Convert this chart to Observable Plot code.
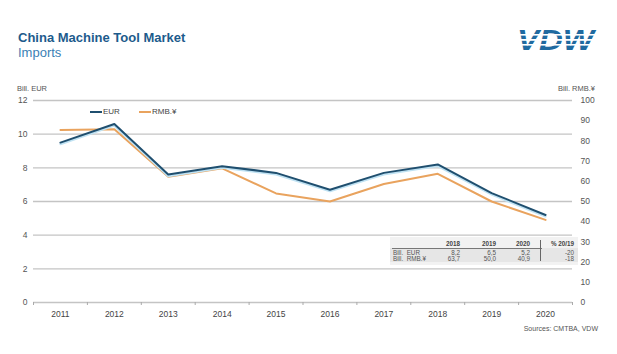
<!DOCTYPE html>
<html>
<head>
<meta charset="utf-8">
<script src="https://cdn.jsdelivr.net/npm/d3@7"></script>
<script src="https://cdn.jsdelivr.net/npm/@observablehq/plot@0.6"></script>
<style>
  html, body { margin: 0; padding: 0; background: #fff; }
  body { font-family: "Liberation Sans", Arial, sans-serif; }
  #wrap { position: relative; width: 617px; height: 354px; overflow: hidden; background: #fff; }
  #wrap > svg { position: absolute; left: 0; top: 0; }
  .abs { position: absolute; white-space: nowrap; }
</style>
</head>
<body>
<div id="wrap"></div>
<script>
// ---- data ----
const years = [2011, 2012, 2013, 2014, 2015, 2016, 2017, 2018, 2019, 2020];
const eurValues = [9.5, 10.6, 7.6, 8.1, 7.7, 6.7, 7.7, 8.2, 6.5, 5.2];
const rmbValues = [85.4, 85.8, 62.3, 66.4, 54.0, 50.0, 58.7, 63.7, 50.0, 40.9];
const eurTicks = [0, 2, 4, 6, 8, 10, 12];
const rmbTicks = [0, 10, 20, 30, 40, 50, 60, 70, 80, 90, 100];
const tableHeader = ["2018", "2019", "2020", "% 20/19"];
const tableRowLabels = ["Bill.  EUR", "Bill.  RMB.¥"];
const tableEUR = ["8,2", "6,5", "5,2", "-20"];
const tableRMB = ["63,7", "50,0", "40,9", "-18"];
const seriesNames = ["EUR", "RMB.¥"];

// ---- layout ----
const W = 617, H = 354;
const k = 12 / 100; // RMB -> EUR-axis scale factor
const eurColor = "#1f4f6f";
const rmbColor = "#e9a35e";

const eurData = years.map((y, i) => ({year: y, v: eurValues[i]}));
const rmbData = years.map((y, i) => ({year: y, v: rmbValues[i] * k}));
const boundaries = d3.range(years[0] - 0.5, years[years.length - 1] + 1, 1);

const chart = Plot.plot({
  width: W,
  height: H,
  marginLeft: 33,
  marginRight: 45,
  marginTop: 100,
  marginBottom: 52,
  style: {fontFamily: "'Liberation Sans', Arial, sans-serif", fontSize: "8.5px", color: "#555", background: "transparent"},
  x: {type: "linear", domain: [years[0] - 0.5, years[years.length - 1] + 0.5]},
  y: {domain: [0, 12]},
  marks: [
    Plot.gridY(eurTicks, {stroke: "#c4c4c4", strokeOpacity: 1, strokeWidth: 1.3}),
    Plot.axisY(eurTicks, {tickSize: 0, tickPadding: 6, label: null, fill: "#555"}),
    Plot.axisY(rmbTicks.map(v => v * k), {anchor: "right", tickSize: 0, tickPadding: 8, label: null, fill: "#555", tickFormat: d => String(Math.round(d / k))}),
    Plot.axisX(years, {tickSize: 0, tickPadding: 8, label: null, fill: "#444", tickFormat: d => String(d)}),
    Plot.axisX(boundaries, {tickSize: 3, label: null, stroke: "#aaa", tickFormat: () => ""}),
    Plot.line(rmbData, {x: "year", y: "v", stroke: rmbColor, strokeWidth: 2}),
    Plot.line(eurData, {x: "year", y: "v", stroke: "#bfe2f3", strokeWidth: 2, dy: 1.6}),
    Plot.line(eurData, {x: "year", y: "v", stroke: eurColor, strokeWidth: 2})
  ]
});
const wrap = document.getElementById("wrap");
wrap.appendChild(chart);

function addText(txt, css) {
  const d = document.createElement("div");
  d.className = "abs";
  d.textContent = txt;
  Object.assign(d.style, css);
  wrap.appendChild(d);
  return d;
}

// Title / subtitle
addText("China Machine Tool Market", {left: "18px", top: "30px", fontSize: "13px", fontWeight: "bold", color: "#1d5b8c"});
addText("Imports", {left: "18px", top: "45px", fontSize: "13px", color: "#3b7fb5"});

// VDW logo
const logo = document.createElementNS("http://www.w3.org/2000/svg", "svg");
logo.setAttribute("width", "90"); logo.setAttribute("height", "34");
logo.style.position = "absolute"; logo.style.left = "512px"; logo.style.top = "22px";
logo.innerHTML = `
  <text x="5" y="28" font-family="'Liberation Sans', Arial" font-weight="bold" font-style="italic" font-size="30" fill="#1f6aa0" textLength="77" lengthAdjust="spacingAndGlyphs">VDW</text>
  <rect x="0" y="12" width="90" height="1.6" fill="#fff"/>
  <rect x="0" y="17" width="90" height="1.8" fill="#fff"/>
  <rect x="0" y="22" width="90" height="1.6" fill="#fff"/>`;
wrap.appendChild(logo);

// Axis unit labels
addText("Bill. EUR", {left: "17px", top: "84px", fontSize: "7.5px", color: "#555"});
addText("Bill. RMB.¥", {right: "22px", top: "84px", fontSize: "7.5px", color: "#555"});

// Legend
const legendItems = [{name: seriesNames[0], color: eurColor, x: 90}, {name: seriesNames[1], color: rmbColor, x: 139}];
legendItems.forEach(it => {
  const sw = document.createElement("div");
  sw.className = "abs";
  Object.assign(sw.style, {left: it.x + "px", top: "111px", width: "12px", height: "2px", background: it.color});
  wrap.appendChild(sw);
  addText(it.name, {left: (it.x + 13) + "px", top: "107px", fontSize: "8px", color: "#444"});
});

// Table
const panel = document.createElement("div");
panel.className = "abs";
Object.assign(panel.style, {left: "390px", top: "237px", width: "188px", height: "28px", background: "#f2f2f2"});
wrap.appendChild(panel);
const rowsBg = document.createElement("div");
rowsBg.className = "abs";
Object.assign(rowsBg.style, {left: "390px", top: "248px", width: "188px", height: "14px", background: "#e6e6e6"});
wrap.appendChild(rowsBg);
const hline = document.createElement("div");
hline.className = "abs";
Object.assign(hline.style, {left: "392px", top: "247.5px", width: "150px", height: "1px", background: "#777"});
wrap.appendChild(hline);
const vline = document.createElement("div");
vline.className = "abs";
Object.assign(vline.style, {left: "540px", top: "240px", width: "1px", height: "21px", background: "#666"});
wrap.appendChild(vline);

const colRight = [460, 496, 530, 574];
tableHeader.forEach((h, i) => {
  addText(h, {right: (W - colRight[i]) + "px", top: "239.5px", fontSize: "6.3px", fontWeight: "bold", color: "#444"});
});
const rowTops = [248.8, 254.5];
[tableEUR, tableRMB].forEach((row, r) => {
  addText(tableRowLabels[r], {left: "393px", top: rowTops[r] + "px", fontSize: "6.3px", color: "#555", whiteSpace: "pre"});
  row.forEach((v, i) => {
    addText(v, {right: (W - colRight[i]) + "px", top: rowTops[r] + "px", fontSize: "6.3px", color: "#555"});
  });
});

// Source
addText("Sources: CMTBA, VDW", {right: "19px", top: "325px", fontSize: "7px", color: "#555"});
</script>
</body>
</html>
